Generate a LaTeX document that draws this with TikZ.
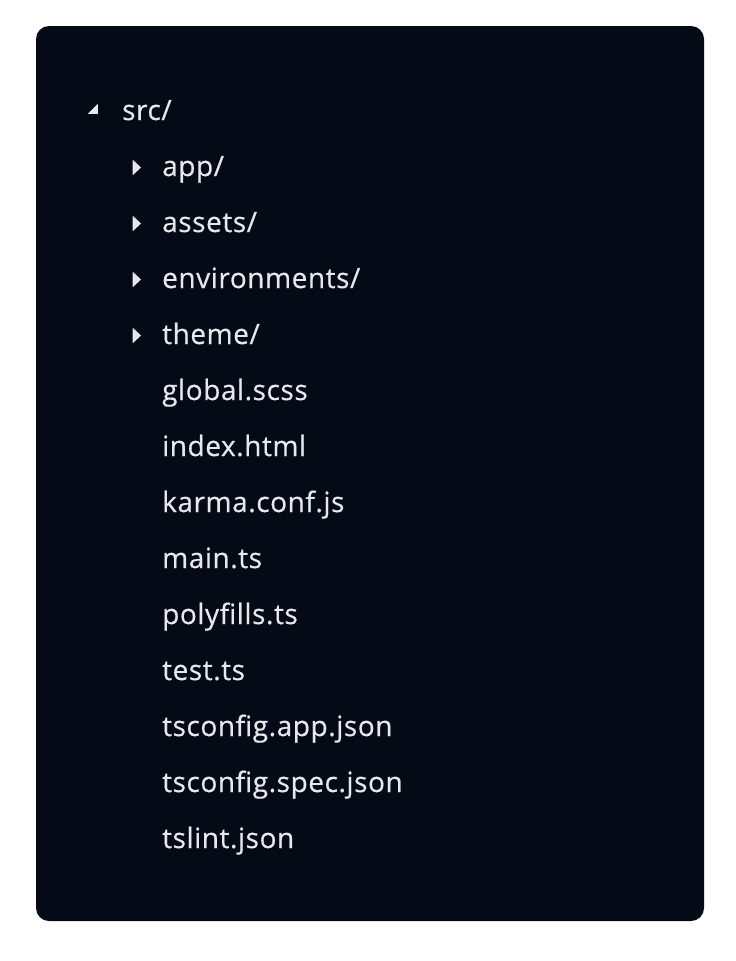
\documentclass[tikz,border=0pt]{standalone}
\usepackage{fontspec}
\setmainfont{Open Sans}[LetterSpace=2,FakeBold=0.4]
\definecolor{panel}{HTML}{050A17}
\definecolor{fg}{HTML}{E6E8EC}
\begin{document}
\begin{tikzpicture}[x=1pt,y=-1pt,
  item/.style={anchor=base west,inner sep=0pt,text=fg,font=\fontsize{28}{32}\selectfont},
  tri/.style={fill=fg,draw=fg,line width=0.6pt,line join=round}]
\useasboundingbox (0,0) rectangle (736,961);
\fill[white] (0,0) rectangle (736,961);
\fill[panel,rounded corners=13pt] (36,26) rectangle (704,921);
% root
\node[item] (src) at (122,120) {src/};
\fill[tri] (88.5,113.5) -- (97.5,113.5) -- (97.5,104.5) -- cycle;
% children
\foreach \t/\n [count=\i from 0] in {{app/}/app,{assets/}/assets,{environments/}/env,{theme/}/theme}{
  \node[item] (\n) at (162,176+56*\i) {\t};
  \fill[tri] (133,160.5+56*\i) -- (140.5,167.5+56*\i) -- (133,174.5+56*\i) -- cycle;
}
\foreach \t/\n [count=\i from 4] in {global.scss/gscss,index.html/ihtml,karma.conf.js/karma,main.ts/maints,polyfills.ts/poly,test.ts/testts,tsconfig.app.json/tsapp,tsconfig.spec.json/tsspec,tslint.json/tslint}{
  \node[item] (\n) at (162,176+56*\i) {\t};
}
\end{tikzpicture}
\end{document}
